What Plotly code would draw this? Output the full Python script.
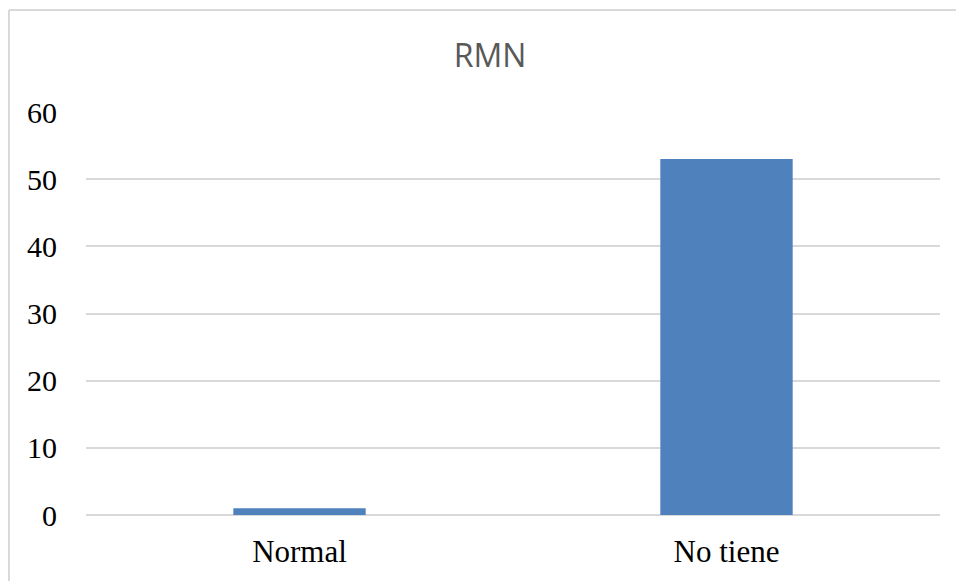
import plotly.graph_objects as go

# Resonancia magnética: resultado por grupo
categorias = ["Normal", "No tiene"]
valores = [1, 53]
titulo = "RMN"
y_ticks = [0, 10, 20, 30, 40, 50, 60]

W, H = 956, 581
L, R, T, B = 86, 16, 112, 66
pw, ph = W - L - R, H - T - B

fig = go.Figure(
    go.Bar(
        x=categorias,
        y=valores,
        marker=dict(color="#4F81BD", line=dict(width=0)),
        hoverinfo="x+y",
    )
)

# Marco exterior del gráfico (solo bordes izquierdo y superior dentro de la vista)
bx = (9 - L) / pw
by = 1 + (T - 10) / ph
fig.add_shape(type="line", xref="paper", yref="paper",
              x0=bx, x1=bx, y0=by, y1=-1, line=dict(color="#D9D9D9", width=2))
fig.add_shape(type="line", xref="paper", yref="paper",
              x0=bx, x1=2, y0=by, y1=by, line=dict(color="#D9D9D9", width=2))

fig.update_layout(
    width=W,
    height=H,
    margin=dict(l=L, r=R, t=T, b=B),
    paper_bgcolor="white",
    plot_bgcolor="white",
    bargap=0.69,
    showlegend=False,
    title=dict(
        text=titulo,
        x=0.5125,
        xanchor="center",
        y=1 - 56 / H,
        yanchor="middle",
        yref="container",
        font=dict(family="Open Sans", size=32, color="#595959"),
    ),
    xaxis=dict(
        showgrid=False,
        showline=False,
        zeroline=False,
        ticks="",
        tickfont=dict(family="Liberation Serif", size=31, color="black"),
        ticklabelstandoff=15,
    ),
    yaxis=dict(
        range=[0, 60],
        tickvals=y_ticks,
        showgrid=True,
        gridcolor="#D9D9D9",
        gridwidth=1.5,
        zeroline=True,
        zerolinecolor="#D9D9D9",
        zerolinewidth=1.5,
        showline=False,
        ticks="",
        tickfont=dict(family="Liberation Serif", size=30, color="black"),
        ticklabelstandoff=28,
    ),
)

fig.write_html("out.html")
